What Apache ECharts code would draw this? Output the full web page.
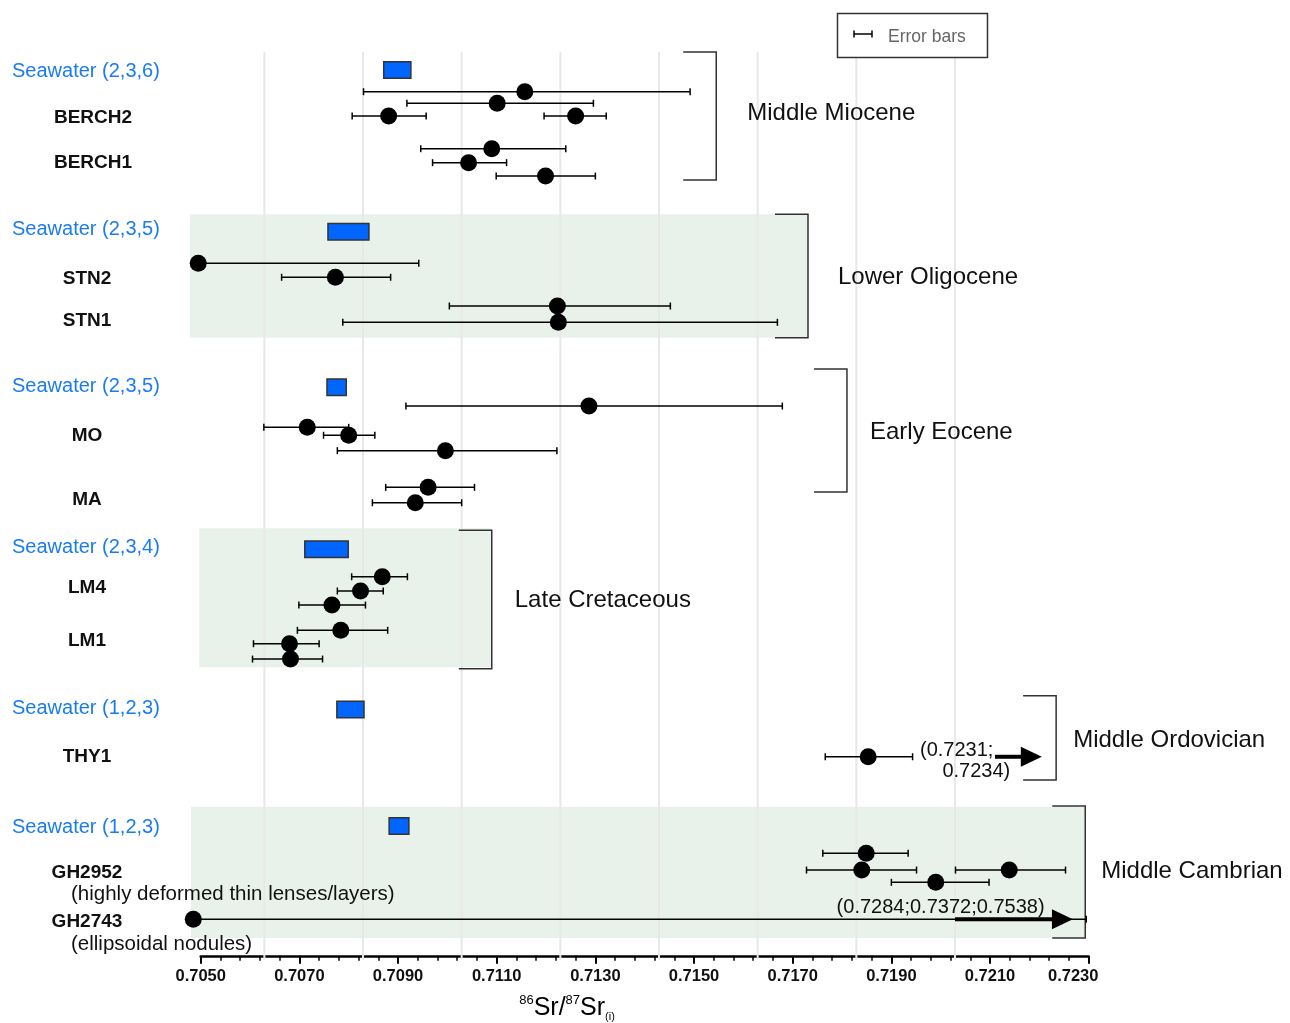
<!DOCTYPE html>
<html><head><meta charset="utf-8">
<script src="https://cdn.jsdelivr.net/npm/echarts@6/dist/echarts.min.js"></script>
<style>html,body{margin:0;padding:0;background:#fff}#c{width:1290px;height:1023px}</style>
</head><body><div id="c"></div>
<script>
// ---- axis ----
const AXIS_MIN = 0.7050, AXIS_MAX = 0.7230, AXIS_STEP = 0.0020;
const gridValues = [0.70629, 0.70829, 0.71029, 0.71229, 0.71429, 0.71629, 0.71829, 0.72029];

// ---- samples (rows on a 0..90 vertical scale, top to bottom) ----
const rowLabelText = ['Seawater (2,3,6)','BERCH2','BERCH1','Seawater (2,3,5)','STN2','STN1','Seawater (2,3,5)','MO','MA','Seawater (2,3,4)','LM4','LM1','Seawater (1,2,3)','THY1','Seawater (1,2,3)','GH2952','GH2743'];
const rowLabelRow  = [1.89, 6.52, 10.99, 17.66, 22.53, 26.71, 33.28, 38.15, 44.52, 49.29, 53.27, 58.55, 65.28, 70.08, 77.15, 81.63, 86.51];
const subLabelText = ['(highly deformed thin lenses/layers)', '(ellipsoidal nodules)'];
const subLabelRow  = [83.82, 88.79];

// ---- measured 86Sr/87Sr(i) values with error bars ----
const pointValue = [0.71157,0.71101,0.70881,0.71260,0.71090,0.71043,0.71199,
                    0.70495,0.70773,0.71223,0.71225,
                    0.71287,0.70716,0.70800,0.70996,0.70961,0.70935,
                    0.70868,0.70824,0.70766,0.70784,0.70680,0.70682,
                    0.71853,
                    0.71849,0.71840,0.72139,0.71990,0.70485];
const pointLow   = [0.70830,0.70918,0.70807,0.71196,0.70946,0.70970,0.71099,
                    0.70495,0.70664,0.71004,0.70788,
                    0.70916,0.70628,0.70749,0.70777,0.70875,0.70848,
                    0.70806,0.70777,0.70699,0.70696,0.70607,0.70605,
                    0.71766,
                    0.71761,0.71728,0.72030,0.71900,0.70485];
const pointHigh  = [0.71492,0.71296,0.70957,0.71322,0.71240,0.71120,0.71300,
                    0.70942,0.70885,0.71452,0.71669,
                    0.71679,0.70800,0.70853,0.71222,0.71055,0.71029,
                    0.70919,0.70870,0.70834,0.70879,0.70740,0.70747,
                    0.71943,
                    0.71934,0.71951,0.72253,0.72098,0.72295];
const pointRow   = [3.95,5.10,6.37,6.37,9.62,11.01,12.34,
                    21.02,22.41,25.27,26.89,
                    35.22,37.34,38.13,39.66,43.31,44.84,
                    52.20,53.62,55.02,57.53,58.86,60.39,
                    70.11,
                    79.72,81.38,81.38,82.60,86.28];

// ---- seawater reference ranges ----
const swLow  = [0.70871, 0.70758, 0.70756, 0.70711, 0.70776, 0.70882];
const swHigh = [0.70926, 0.70841, 0.70795, 0.70799, 0.70831, 0.70922];
const swRow  = [1.79, 17.88, 33.35, 49.46, 65.41, 77.00];

// ---- periods (brackets) ----
const periodName   = ['Middle Miocene','Lower Oligocene','Early Eocene','Late Cretaceous','Middle Ordovician','Middle Cambrian'];
const periodRow    = [6.07, 22.38, 37.80, 54.52, 68.44, 81.48];
const bracketX     = [0.71545, 0.71731, 0.71810, 0.71090, 0.72234, 0.72293];
const bracketTop   = [0.00, 16.15, 31.54, 47.58, 64.04, 75.01];
const bracketBot   = [12.73, 28.42, 43.77, 61.35, 72.42, 88.14];
const periodGap    = [31, 30, 23, 23, 17, 16];
// shaded bands
const shadeLow  = [0.70478, 0.70497, 0.70480];
const shadeHigh = [0.71731, 0.71090, 0.72293];
const shadeTop  = [16.15, 47.38, 75.08];
const shadeBot  = [28.42, 61.21, 88.14];

// ---- off-scale annotations ----
const arrowFrom = [0.72110, 0.72029];
const arrowTo   = [0.72205, 0.72268];
const arrowRow  = [70.11, 86.28];
const annText  = ['(0.7231;', '0.7234)', '(0.7284;0.7372;0.7538)'];
const annX     = [0.71958, 0.72141, 0.71789];
const annRow   = [69.44, 71.53, 85.13];
const annAlign = ['left', 'right', 'left'];

const FONT = '"Liberation Sans", Arial, sans-serif';
function hasFont(name) {
  const ctx = document.createElement('canvas').getContext('2d');
  ctx.font = 'bold 20px monospace';
  const w1 = ctx.measureText('0.7070 Sample').width;
  ctx.font = 'bold 20px "' + name + '", monospace';
  const w2 = ctx.measureText('0.7070 Sample').width;
  return Math.abs(w1 - w2) > 0.5;
}
const NARROW = hasFont('Liberation Sans Narrow');
const TICKFONT = NARROW ? '"Liberation Sans Narrow", "Liberation Sans", sans-serif' : FONT;
const TICKSIZE = NARROW ? 19.5 : 16.5;

const X = v => (v - AXIS_MIN) * 1e4;
const XMAX = X(AXIS_MAX), XSTEP = AXIS_STEP * 1e4;

const chart = echarts.init(document.getElementById('c'), null, {renderer: 'canvas'});

const option = {
  animation: false,
  backgroundColor: '#fff',
  grid: {left: 200.7, right: 1290 - 1088.7, top: 52, bottom: 1023 - 956.7, containLabel: false},
  xAxis: {
    type: 'value', min: 0, max: XMAX, interval: XSTEP,
    axisLine: {show: true, onZero: false, lineStyle: {color: '#000', width: 2.5}},
    axisTick: {show: true, length: 7, lineStyle: {color: '#000', width: 2}},
    minorTick: {show: true, splitNumber: 5, length: 4, lineStyle: {color: '#000', width: 1.5}},
    splitLine: {show: false},
    axisLabel: {
      margin: NARROW ? 9 : 11, color: '#111', fontWeight: 'bold', fontSize: TICKSIZE, fontFamily: TICKFONT,
      formatter: v => {
        const s = (AXIS_MIN + v / 1e4).toFixed(4);
        return Math.abs(v - XMAX) < 1e-6 ? '{last|' + s + '}' : s;
      },
      rich: {last: {fontWeight: 'bold', fontSize: TICKSIZE, fontFamily: TICKFONT, color: '#111', padding: [0, 31, 0, 0]}}
    }
  },
  yAxis: {type: 'value', min: 0, max: 90, inverse: true, show: false},
  series: [
    { // shaded bands
      type: 'custom', z: 1, silent: true,
      data: shadeLow.map((v, i) => [X(v), shadeTop[i]]),
      renderItem: (p, api) => {
        const i = p.dataIndex;
        const a = api.coord([X(shadeLow[i]), shadeTop[i]]);
        const b = api.coord([X(shadeHigh[i]), shadeBot[i]]);
        return {type: 'rect', shape: {x: a[0], y: a[1], width: b[0] - a[0], height: b[1] - a[1]}, style: {fill: '#e9f2ea'}};
      }
    },
    { // vertical gridlines
      type: 'custom', z: 2, silent: true,
      data: gridValues.map(v => [X(v), 0]),
      renderItem: (p, api) => {
        const a = api.coord([X(gridValues[p.dataIndex]), 0]);
        const b = api.coord([X(gridValues[p.dataIndex]), 90]);
        return {type: 'line', shape: {x1: a[0], y1: a[1], x2: b[0], y2: b[1] + 3}, style: {stroke: '#e8e8e8', lineWidth: 2}};
      }
    },
    { // brackets + period names
      type: 'custom', z: 3, silent: true,
      data: bracketX.map((v, i) => [X(v), bracketTop[i]]),
      renderItem: (p, api) => {
        const i = p.dataIndex;
        const t = api.coord([X(bracketX[i]), bracketTop[i]]);
        const b = api.coord([X(bracketX[i]), bracketBot[i]]);
        const ly = api.coord([X(bracketX[i]), periodRow[i]])[1];
        const arm = 33;
        const st = {stroke: '#333', lineWidth: 1.5, fill: null};
        return {type: 'group', children: [
          {type: 'polyline', shape: {points: [[t[0] - arm, t[1]], [t[0], t[1]], [b[0], b[1]], [b[0] - arm, b[1]]]}, style: st},
          {type: 'text', x: t[0] + periodGap[i], y: ly,
           style: {text: periodName[i], fill: '#111', fontSize: 24, fontFamily: FONT, align: 'left', verticalAlign: 'middle'}}
        ]};
      }
    },
    { // seawater ranges
      type: 'custom', z: 4, silent: true,
      data: swLow.map((v, i) => [X(v), swRow[i]]),
      renderItem: (p, api) => {
        const i = p.dataIndex;
        const a = api.coord([X(swLow[i]), swRow[i]]);
        const b = api.coord([X(swHigh[i]), swRow[i]]);
        const h = 16.5;
        return {type: 'rect', shape: {x: a[0], y: a[1] - h / 2, width: b[0] - a[0], height: h},
                style: {fill: '#0066ff', stroke: '#333', lineWidth: 1.5}};
      }
    },
    { // error bars
      type: 'custom', z: 5, silent: true,
      data: pointValue.map((v, i) => [X(pointLow[i]), pointRow[i]]),
      renderItem: (p, api) => {
        const i = p.dataIndex;
        const a = api.coord([X(pointLow[i]), pointRow[i]]);
        const b = api.coord([X(pointHigh[i]), pointRow[i]]);
        const c = 3.5, st = {stroke: '#000', lineWidth: 1.5};
        return {type: 'group', children: [
          {type: 'line', shape: {x1: a[0], y1: a[1], x2: b[0], y2: b[1]}, style: st},
          {type: 'line', shape: {x1: a[0], y1: a[1] - c, x2: a[0], y2: a[1] + c}, style: st},
          {type: 'line', shape: {x1: b[0], y1: b[1] - c, x2: b[0], y2: b[1] + c}, style: st}
        ]};
      }
    },
    { // arrows for off-scale values
      type: 'custom', z: 5, silent: true,
      data: arrowFrom.map((v, i) => [X(v), arrowRow[i]]),
      renderItem: (p, api) => {
        const i = p.dataIndex;
        const a = api.coord([X(arrowFrom[i]), arrowRow[i]]);
        const b = api.coord([X(arrowTo[i]), arrowRow[i]]);
        const head = 21, hw = 10;
        return {type: 'group', children: [
          {type: 'line', shape: {x1: a[0], y1: a[1], x2: b[0] - head + 2, y2: b[1]}, style: {stroke: '#000', lineWidth: 4}},
          {type: 'polygon', shape: {points: [[b[0], b[1]], [b[0] - head, b[1] - hw], [b[0] - head, b[1] + hw]]}, style: {fill: '#000'}}
        ]};
      }
    },
    { // annotation texts
      type: 'custom', z: 6, silent: true,
      data: annX.map((v, i) => [X(v), annRow[i]]),
      renderItem: (p, api) => {
        const i = p.dataIndex;
        const a = api.coord([X(annX[i]), annRow[i]]);
        return {type: 'text', x: a[0], y: a[1],
                style: {text: annText[i], fill: '#111', fontSize: 20, fontFamily: FONT, align: annAlign[i], verticalAlign: 'middle'}};
      }
    },
    { // measured values
      type: 'scatter', z: 7, clip: false, silent: true,
      symbol: 'circle', symbolSize: 17,
      itemStyle: {color: '#000', opacity: 1},
      data: pointValue.map((v, i) => [X(v), pointRow[i]])
    },
    { // row labels
      type: 'custom', z: 6, silent: true,
      data: rowLabelRow.map(r => [0, r]),
      renderItem: (p, api) => {
        const i = p.dataIndex;
        const t = rowLabelText[i];
        const y = api.coord([0, rowLabelRow[i]])[1];
        const sw = t.indexOf('Seawater') === 0;
        return {type: 'text', x: sw ? 12 : (t.indexOf('BERCH') === 0 ? 93 : 87), y: y,
                style: {text: t, fill: sw ? '#1a7cf0' : '#111', fontSize: sw ? 20 : 19, fontWeight: sw ? 'normal' : 'bold',
                        fontFamily: FONT, align: sw ? 'left' : 'center', verticalAlign: 'middle'}};
      }
    },
    { // sub labels
      type: 'custom', z: 6, silent: true,
      data: subLabelRow.map(r => [0, r]),
      renderItem: (p, api) => {
        const i = p.dataIndex;
        const y = api.coord([0, subLabelRow[i]])[1];
        return {type: 'text', x: 71, y: y,
                style: {text: subLabelText[i], fill: '#111', fontSize: 20.5, fontFamily: FONT, align: 'left', verticalAlign: 'middle'}};
      }
    }
  ],
  graphic: [
    {type: 'rect', z: 10, shape: {x: 837.5, y: 13.5, width: 150, height: 44}, style: {fill: '#fff', stroke: '#333', lineWidth: 1.5}},
    {type: 'line', z: 11, shape: {x1: 854, y1: 34, x2: 872, y2: 34}, style: {stroke: '#000', lineWidth: 1.5}},
    {type: 'line', z: 11, shape: {x1: 854, y1: 30.5, x2: 854, y2: 37.5}, style: {stroke: '#000', lineWidth: 1.5}},
    {type: 'line', z: 11, shape: {x1: 872, y1: 30.5, x2: 872, y2: 37.5}, style: {stroke: '#000', lineWidth: 1.5}},
    {type: 'text', z: 11, x: 888, y: 37, style: {text: 'Error bars', fill: '#666', fontSize: 17.5, fontFamily: FONT, align: 'left', verticalAlign: 'middle'}},
    {type: 'text', z: 11, x: 567, y: 1008, style: {
      text: '{sup|86}{m|Sr/}{sup|87}{m|Sr}{sub|(i)}', align: 'center', verticalAlign: 'middle',
      rich: {
        m: {fontSize: 25, fontFamily: FONT, fill: '#000', lineHeight: 28},
        sup: {fontSize: 13, fontFamily: FONT, fill: '#000', lineHeight: 13, verticalAlign: 'top'},
        sub: {fontSize: 11, fontFamily: FONT, fill: '#000', lineHeight: 8, verticalAlign: 'bottom'}
      }
    }}
  ]
};
chart.setOption(option);
</script>
</body></html>
